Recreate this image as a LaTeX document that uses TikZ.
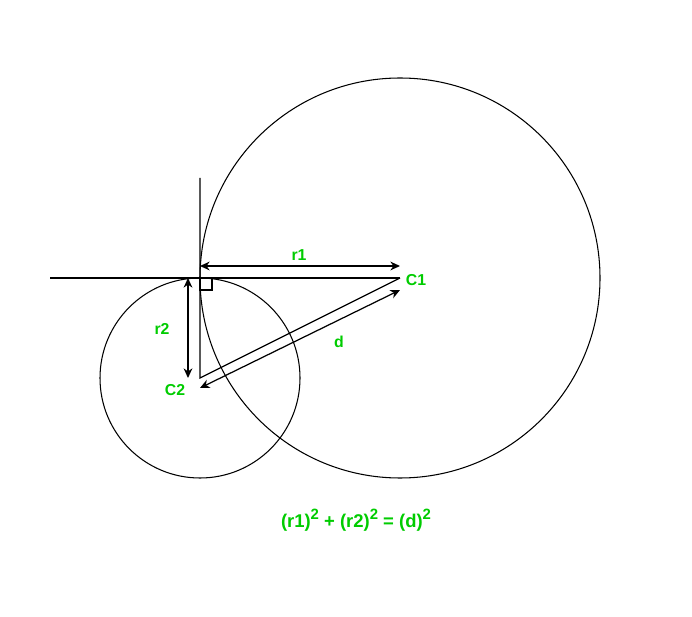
\documentclass[tikz,border=0pt]{standalone}
\usepackage{fontspec}
\setmainfont{Liberation Sans}
\usetikzlibrary{arrows.meta}
\definecolor{lblgreen}{RGB}{0,204,0}
\newcommand{\sqr}{\raisebox{0.85ex}{\fontsize{8.5pt}{9pt}\selectfont 2}}
\tikzset{
    lbl/.style={text=lblgreen, font=\fontsize{9pt}{11pt}\selectfont\bfseries, inner sep=0pt},
    dim/.style={line width=0.7pt, {Stealth[length=5.5pt,width=5pt]}-{Stealth[length=5.5pt,width=5pt]}}
}
\begin{document}
\begin{tikzpicture}[x=0.02cm, y=-0.02cm]
        \useasboundingbox (0, 0) rectangle (692, 617);
        \coordinate (c1) at (400, 278);
        \coordinate (c2) at (200, 378);
        \coordinate (t) at (200, 278);
        \coordinate (hl) at (50, 278);
        \coordinate (vt) at (200, 178);

        \draw[line width=0.6pt] (c1) circle (200);
        \draw[line width=0.6pt] (c2) circle (100);
        \draw[line width=0.7pt] (hl) -- (c1);
        \draw[line width=0.7pt] (vt) -- (c2) -- (c1);
        \draw[line width=0.6pt] (t) rectangle (212, 290);

        % dimension arrows
        \coordinate (r1a) at (200, 266);
        \coordinate (r1b) at (400, 266);
        \coordinate (r2a) at (188, 278);
        \coordinate (r2b) at (188, 378);
        \coordinate (da) at (400, 290);
        \coordinate (db) at (200, 388);
        \draw[dim] (r1a) -- (r1b);
        \draw[dim] (r2a) -- (r2b);
        \draw[dim] (da) -- (db);

        \node[lbl] (lr1) at (299, 255) {r1};
        \node[lbl] (lr2) at (162, 329) {r2};
        \node[lbl] (ld) at (339, 342) {d};
        \node[lbl] (lc1) at (416, 280) {C1};
        \node[lbl] (lc2) at (175, 390) {C2};
        \node[lbl, font=\fontsize{10.5pt}{13pt}\selectfont\bfseries] (eq) at (356, 520)
            {(r1)\sqr{} + (r2)\sqr{} = (d)\sqr};
    \end{tikzpicture}
\end{document}
